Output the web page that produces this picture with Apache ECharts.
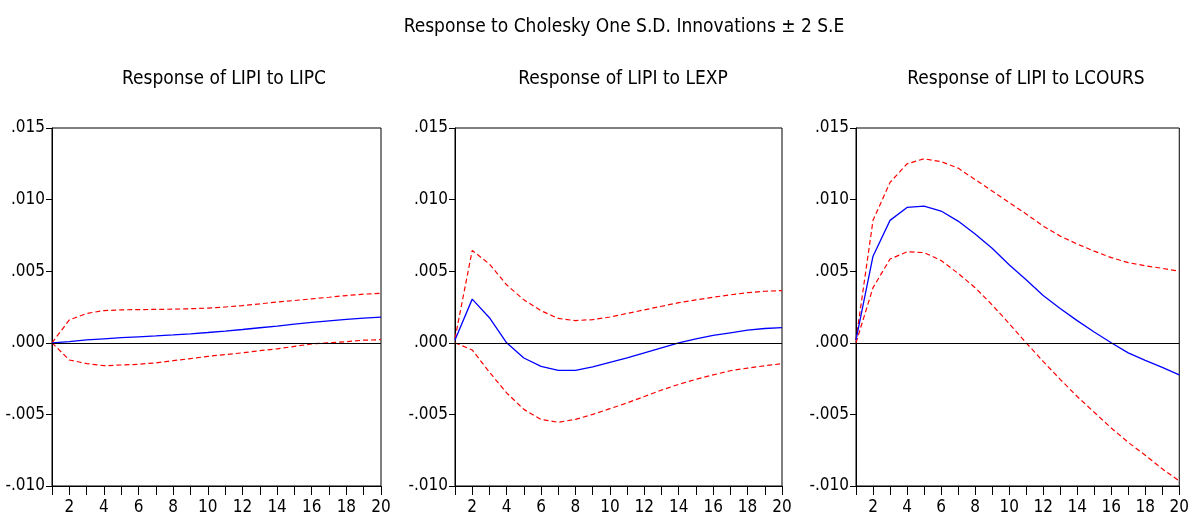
<!DOCTYPE html>
<html>
<head>
<meta charset="utf-8">
<script src="https://cdn.jsdelivr.net/npm/echarts@6/dist/echarts.min.js"></script>
<style>
html,body{margin:0;padding:0;background:#fff;}
#chart{width:1192px;height:516px;}
</style>
</head>
<body>
<div id="chart"></div>
<script>
// Periods (horizon)
var periods = [1,2,3,4,5,6,7,8,9,10,11,12,13,14,15,16,17,18,19,20];

// Titles
var mainTitle = 'Response to Cholesky One S.D. Innovations \u00b1 2 S.E';
var panelTitles = ['Response of LIPI to LIPC', 'Response of LIPI to LEXP', 'Response of LIPI to LCOURS'];

// Response of LIPI to LIPC (x 0.001)
var lipcResp  = [0, 0.08, 0.20, 0.28, 0.36, 0.42, 0.48, 0.55, 0.63, 0.72, 0.82, 0.93, 1.05, 1.17, 1.30, 1.42, 1.53, 1.63, 1.73, 1.80];
var lipcUpper = [0, 1.60, 2.05, 2.25, 2.30, 2.32, 2.33, 2.35, 2.38, 2.42, 2.50, 2.60, 2.72, 2.85, 2.95, 3.07, 3.18, 3.30, 3.40, 3.45];
var lipcLower = [0, -1.20, -1.45, -1.60, -1.55, -1.50, -1.40, -1.25, -1.10, -0.95, -0.82, -0.70, -0.55, -0.42, -0.25, -0.08, 0.00, 0.08, 0.18, 0.22];

// Response of LIPI to LEXP (x 0.001)
var lexpResp  = [0.2, 3.05, 1.75, 0.0, -1.06, -1.65, -1.93, -1.92, -1.68, -1.37, -1.06, -0.70, -0.35, 0.0, 0.28, 0.52, 0.70, 0.88, 1.00, 1.06];
var lexpUpper = [0.3, 6.45, 5.50, 4.05, 3.00, 2.24, 1.70, 1.55, 1.62, 1.80, 2.05, 2.30, 2.55, 2.80, 3.00, 3.18, 3.35, 3.50, 3.60, 3.65];
var lexpLower = [0.0, -0.50, -2.05, -3.50, -4.65, -5.35, -5.55, -5.35, -5.00, -4.60, -4.20, -3.75, -3.30, -2.90, -2.55, -2.24, -1.95, -1.77, -1.60, -1.46];

// Response of LIPI to LCOURS (x 0.001)
var lcoursResp  = [0.2, 6.05, 8.55, 9.45, 9.55, 9.20, 8.50, 7.60, 6.60, 5.45, 4.40, 3.30, 2.40, 1.55, 0.75, 0.0, -0.70, -1.23, -1.72, -2.24];
var lcoursUpper = [0.2, 8.55, 11.20, 12.50, 12.85, 12.65, 12.20, 11.40, 10.60, 9.80, 9.00, 8.15, 7.45, 6.90, 6.40, 5.95, 5.60, 5.38, 5.20, 5.00];
var lcoursLower = [0.0, 3.85, 5.85, 6.35, 6.30, 5.75, 4.85, 3.85, 2.65, 1.35, 0.0, -1.30, -2.55, -3.75, -4.85, -5.95, -6.95, -7.85, -8.80, -9.65];

var FONT = '"Liberation Sans Narrow","Arial Narrow","DejaVu Sans Condensed","Liberation Sans",sans-serif';

function pairs(arr){
  return periods.map(function(p,i){ return [p, arr[i]/1000]; });
}
function fmtY(v){
  var s = (Math.round(v*1000)/1000).toFixed(3);
  return s.replace('0.', '.');
}

var panels = [
  {left:52, right:811, center:219, resp:lipcResp, up:lipcUpper, lo:lipcLower},
  {left:455, right:410, center:618, resp:lexpResp, up:lexpUpper, lo:lexpLower},
  {left:856, right:7, center:1021, resp:lcoursResp, up:lcoursUpper, lo:lcoursLower}
];

var grids=[], xAxes=[], yAxes=[], series=[], titles=[];
titles.push({text:mainTitle, left:619, top:13, textAlign:'center',
  textStyle:{fontFamily:FONT, fontSize:19, fontWeight:'normal', color:'#000'}});

panels.forEach(function(p,i){
  grids.push({left:p.left, right:p.right, top:128, bottom:30, show:true, borderColor:'#000', borderWidth:1, backgroundColor:'transparent'});
  titles.push({text:panelTitles[i], left:p.center, top:65, textAlign:'center',
    textStyle:{fontFamily:FONT, fontSize:19, fontWeight:'normal', color:'#000'}});
  xAxes.push({type:'value', gridIndex:i, min:1, max:20, interval:1,
    axisLine:{onZero:false, lineStyle:{color:'#000', width:1}},
    axisTick:{show:true, inside:false, length:9, lineStyle:{color:'#000'}},
    splitLine:{show:false},
    axisLabel:{fontFamily:FONT, fontSize:17, color:'#000', margin:13,
      formatter:function(v){ return (v%2===0)? String(v) : ''; }}
  });
  yAxes.push({type:'value', gridIndex:i, min:-0.010, max:0.015, interval:0.005,
    axisLine:{show:true, onZero:false, lineStyle:{color:'#000', width:1}},
    axisTick:{show:true, length:6, lineStyle:{color:'#000'}},
    splitLine:{show:false},
    axisLabel:{fontFamily:FONT, fontSize:17, color:'#000', margin:7, formatter:fmtY}
  });
  series.push({type:'line', xAxisIndex:i, yAxisIndex:i, data:pairs(p.up), symbol:'none', silent:true,
    lineStyle:{color:'#ff0000', width:1.2, type:[5,3]}});
  series.push({type:'line', xAxisIndex:i, yAxisIndex:i, data:pairs(p.lo), symbol:'none', silent:true,
    lineStyle:{color:'#ff0000', width:1.2, type:[5,3]}});
  series.push({type:'line', xAxisIndex:i, yAxisIndex:i, data:pairs(p.resp), symbol:'none', silent:true,
    lineStyle:{color:'#0000ff', width:1.3},
    markLine:{symbol:'none', silent:true, label:{show:false},
      lineStyle:{color:'#000', width:1, type:'solid'},
      data:[{yAxis:0}]}
  });
});

var chart = echarts.init(document.getElementById('chart'), null, {renderer:'canvas'});
chart.setOption({
  animation:false,
  backgroundColor:'#fff',
  title:titles,
  grid:grids,
  xAxis:xAxes,
  yAxis:yAxes,
  series:series
});
</script>
</body>
</html>
